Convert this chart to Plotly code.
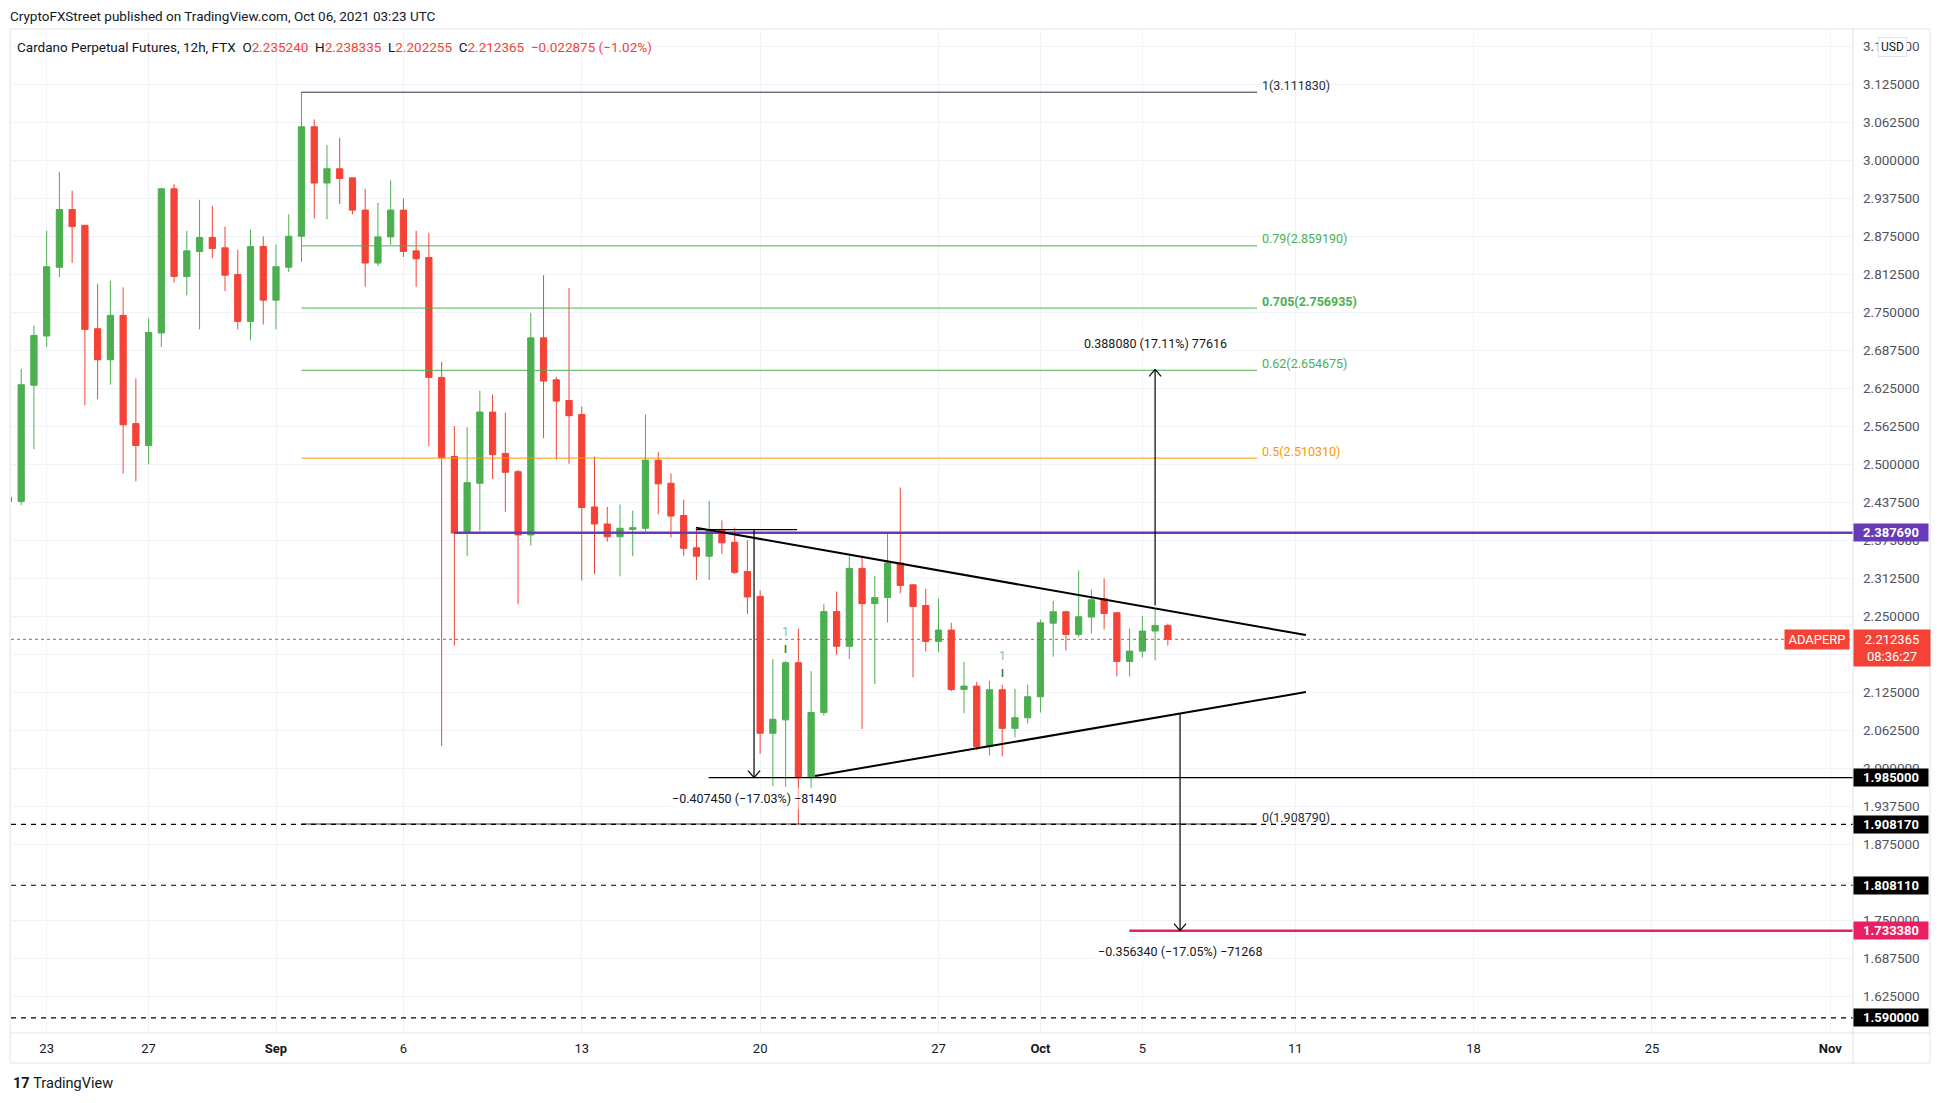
import pandas as pd
import plotly.graph_objects as go

# ADA-PERP 12h candles, Aug 21 12:00 -> Oct 6 00:00
opens = [2.446, 2.439, 2.630, 2.711, 2.824, 2.919, 2.893, 2.723, 2.672, 2.745, 2.567, 2.531,
         2.716, 2.953, 2.809, 2.850, 2.873, 2.856, 2.812, 2.735, 2.858, 2.770, 2.824, 2.875,
         3.055, 2.9625, 2.986, 2.971, 2.918, 2.831, 2.874, 2.918, 2.851, 2.840, 2.643, 2.513,
         2.387, 2.469, 2.586, 2.518, 2.488, 2.384, 2.708, 2.639, 2.605, 2.582, 2.430, 2.402,
         2.381, 2.393, 2.395, 2.507, 2.469, 2.416, 2.363, 2.349, 2.393, 2.372, 2.324, 2.283,
         2.058, 2.080, 2.174, 1.985, 2.092, 2.258, 2.201, 2.329, 2.271, 2.281, 2.338, 2.302,
         2.268, 2.209, 2.2276, 2.130, 2.1355, 2.036, 2.1295, 2.066, 2.0835, 2.118, 2.239, 2.2577,
         2.2205, 2.249, 2.279, 2.256, 2.176, 2.193, 2.226, 2.235240]
highs = [2.452, 2.657, 2.728, 2.884, 2.981, 2.950, 2.893, 2.797, 2.802, 2.791, 2.641, 2.740,
         2.955, 2.961, 2.884, 2.935, 2.925, 2.891, 2.853, 2.886, 2.875, 2.861, 2.911, 3.1118,
         3.067, 3.025, 3.037, 2.971, 2.953, 2.930, 2.967, 2.937, 2.884, 2.881, 2.669, 2.563,
         2.561, 2.621, 2.615, 2.585, 2.491, 2.749, 2.811, 2.644, 2.790, 2.595, 2.513, 2.430,
         2.434, 2.424, 2.582, 2.520, 2.485, 2.442, 2.394, 2.440, 2.408, 2.396, 2.375, 2.293,
         2.180, 2.177, 2.230, 2.160, 2.270, 2.291, 2.349, 2.348, 2.317, 2.387, 2.462, 2.303,
         2.2955, 2.279, 2.2396, 2.1755, 2.1426, 2.144, 2.1377, 2.131, 2.1377, 2.2446, 2.2758, 2.2594,
         2.3257, 2.2944, 2.3125, 2.2577, 2.2298, 2.2512, 2.2627, 2.238335]
lows = [2.433, 2.433, 2.525, 2.693, 2.808, 2.831, 2.597, 2.607, 2.631, 2.485, 2.472, 2.500,
        2.693, 2.799, 2.778, 2.722, 2.839, 2.785, 2.722, 2.704, 2.730, 2.722, 2.816, 2.833,
        2.904, 2.903, 2.928, 2.911, 2.792, 2.826, 2.861, 2.841, 2.792, 2.530, 2.037, 2.202,
        2.349, 2.391, 2.476, 2.422, 2.270, 2.366, 2.543, 2.508, 2.501, 2.309, 2.320, 2.373,
        2.316, 2.349, 2.390, 2.418, 2.380, 2.349, 2.310, 2.310, 2.353, 2.320, 2.254, 2.024,
        1.971, 1.970, 1.908, 1.967, 2.087, 2.187, 2.180, 2.065, 2.139, 2.240, 2.288, 2.150,
        2.1925, 2.191, 2.127, 2.091, 2.030, 2.0215, 2.020, 2.051, 2.074, 2.092, 2.184, 2.194,
        2.2155, 2.222, 2.2287, 2.1514, 2.1514, 2.1827, 2.1777, 2.202255]
closes = [2.439, 2.631, 2.712, 2.825, 2.919, 2.891, 2.722, 2.672, 2.745, 2.565, 2.531, 2.717,
          2.953, 2.809, 2.851, 2.873, 2.855, 2.811, 2.735, 2.858, 2.770, 2.825, 2.875, 3.055,
          2.9625, 2.986, 2.970, 2.918, 2.831, 2.874, 2.918, 2.850, 2.838, 2.643, 2.511, 2.387,
          2.470, 2.586, 2.516, 2.487, 2.384, 2.708, 2.637, 2.604, 2.580, 2.429, 2.402, 2.381,
          2.395, 2.396, 2.507, 2.468, 2.415, 2.362, 2.349, 2.393, 2.371, 2.3225, 2.282, 2.058,
          2.081, 2.174, 1.985, 2.092, 2.258, 2.201, 2.329, 2.271, 2.281, 2.338, 2.301, 2.2665,
          2.209, 2.2276, 2.130, 2.1355, 2.0358, 2.1295, 2.066, 2.0835, 2.118, 2.2396, 2.2577, 2.2205,
          2.2495, 2.2775, 2.255, 2.176, 2.193, 2.226, 2.23524, 2.212365]
times = pd.date_range("2021-08-21 12:00", periods=len(opens), freq="12h")

# axis ticks
tick_dates = ["2021-08-23", "2021-08-27", "2021-09-01", "2021-09-06", "2021-09-13", "2021-09-20",
              "2021-09-27", "2021-10-01", "2021-10-05", "2021-10-11", "2021-10-18", "2021-10-25",
              "2021-11-01"]
tick_labels = ["23", "27", "<b>Sep</b>", "6", "13", "20", "27", "<b>Oct</b>", "5", "11", "18", "25", "<b>Nov</b>"]

# fibonacci retracement
fib_ratios = ["1", "0.79", "0.705", "0.62", "0.5", "0"]
fib_prices = [3.111830, 2.859190, 2.756935, 2.654675, 2.510310, 1.908790]
fib_colors = ["#2a2e39", "#4caf50", "#4caf50", "#4caf50", "#ff9800", "#2a2e39"]
fib_start, fib_end = "2021-09-02 00:00", "2021-10-09 12:00"

# horizontal levels: price, start, colour, dash, width
level_prices = [2.387690, 1.985000, 1.908170, 1.808110, 1.733380, 1.590000]
level_starts = ["2021-09-08 00:00", "2021-09-17 23:30", None, None, "2021-10-04 11:45", None]
level_colors = ["#673ab7", "#000000", "#000000", "#000000", "#e91e63", "#000000"]
level_dash = ["solid", "solid", "dash", "dash", "solid", "dash"]
level_width = [2.5, 1.2, 1.2, 1.2, 2.5, 1.2]

last_price = 2.212365

# triangle trend lines
upper_line = (["2021-09-17 11:30", "2021-10-11 10:00"], [2.3960, 2.2194])
lower_line = (["2021-09-22 03:40", "2021-10-11 10:00"], [1.9877, 2.1257])

# measurement arrows: x, start price, end price, label
measures = [
    ("2021-09-19 18:15", 2.39263, 1.98518, "\u22120.407450 (\u221217.03%) \u221281490"),
    ("2021-10-05 12:00", 2.26800, 2.65608, "0.388080 (17.11%) 77616"),
    ("2021-10-06 11:30", 2.08972, 1.73338, "\u22120.356340 (\u221217.05%) \u221271268"),
]
measure_top = (["2021-09-17 11:30", "2021-09-21 10:45"], 2.39263)

X_START, X_END = pd.Timestamp("2021-08-21 14:24"), pd.Timestamp("2021-11-01 21:20")
Y_MIN, Y_MAX = 1.5652, 3.2141
W, H = 1941, 1103
PL, PR, PT, PB = 11, 1853, 30, 1033
DX = (X_END - X_START) / (PR - PL)   # time per pixel
DY = (Y_MAX - Y_MIN) / (PB - PT)     # price per pixel

GREEN, RED = "#4caf50", "#f44336"
FONT = "Roboto, Arial, sans-serif"

fig = go.Figure(go.Candlestick(
    x=times, open=opens, high=highs, low=lows, close=closes,
    increasing=dict(line=dict(color=GREEN, width=1), fillcolor=GREEN),
    decreasing=dict(line=dict(color=RED, width=1), fillcolor=RED),
    whiskerwidth=0, hoverinfo="skip", showlegend=False,
))

shapes = []
annotations = []

# fib lines + labels
for r, p, c in zip(fib_ratios, fib_prices, fib_colors):
    shapes.append(dict(type="line", xref="x", yref="y", x0=fib_start, x1=fib_end, y0=p, y1=p,
                       line=dict(color=c, width=1)))
    txt = f"{r}({p:.6f})"
    if r == "0.705":
        txt = f"<b>{txt}</b>"
    annotations.append(dict(xref="x", yref="y", x=fib_end, y=p, text=txt, showarrow=False,
                            xanchor="left", yanchor="middle", xshift=3, yshift=7,
                            font=dict(size=12.5, color=c, family=FONT)))

# horizontal levels
for p, s, c, d, w in zip(level_prices, level_starts, level_colors, level_dash, level_width):
    shapes.append(dict(type="line", xref="x", yref="y", x0=s or X_START, x1=X_END, y0=p, y1=p,
                       line=dict(color=c, width=w, dash="5px,5px" if d == "dash" else "solid")))
    annotations.append(dict(xref="paper", yref="y", x=1.0, y=p, text=f"<b>{p:.6f}</b>",
                            showarrow=False, xanchor="left", yanchor="middle", width=72,
                            height=15, bgcolor=c, borderpad=1,
                            font=dict(size=13, color="white", family=FONT)))

# last price
shapes.append(dict(type="line", xref="x", yref="y", x0=X_START, x1=X_END, y0=last_price, y1=last_price,
                   line=dict(color=RED, width=1, dash="dot")))
annotations.append(dict(xref="paper", yref="y", x=1.0, y=last_price, text=f"{last_price:.6f}<br>08:36:27",
                        showarrow=False, xanchor="left", yanchor="middle", yshift=-9, width=72,
                        bgcolor=RED, borderpad=2, font=dict(size=13, color="white", family=FONT)))
annotations.append(dict(xref="paper", yref="y", x=1.0, y=last_price, text="ADAPERP",
                        showarrow=False, xanchor="right", yanchor="middle", xshift=-3, width=60,
                        bgcolor=RED, borderpad=2, font=dict(size=13, color="white", family=FONT)))

# triangle
for xs, ys in (upper_line, lower_line):
    shapes.append(dict(type="line", xref="x", yref="y", x0=xs[0], x1=xs[1], y0=ys[0], y1=ys[1],
                       line=dict(color="#000000", width=2)))

# measurements
shapes.append(dict(type="line", xref="x", yref="y", x0=measure_top[0][0], x1=measure_top[0][1],
                   y0=measure_top[1], y1=measure_top[1], line=dict(color="#000000", width=1.2)))
for x, p0, p1, label in measures:
    xt = pd.Timestamp(x)
    shapes.append(dict(type="line", xref="x", yref="y", x0=xt, x1=xt, y0=p0, y1=p1,
                       line=dict(color="#000000", width=1.2)))
    sgn = 1 if p1 < p0 else -1   # arrow pointing down -> arms go up
    for side in (-1, 1):
        shapes.append(dict(type="line", xref="x", yref="y", x0=xt, y0=p1,
                           x1=xt + side * 6 * DX, y1=p1 + sgn * 7 * DY,
                           line=dict(color="#000000", width=1.2)))
    annotations.append(dict(xref="x", yref="y", x=xt, y=p1, text=label, showarrow=False,
                            xanchor="center", yanchor="middle", yshift=-21 if p1 < p0 else 26,
                            bgcolor="rgba(255,255,255,0.5)", borderpad=3,
                            font=dict(size=12.5, color="#131722", family=FONT)))

# small "1 / I" markers
for x, p in (("2021-09-21 00:00", 2.177), ("2021-09-29 12:00", 2.1377)):
    annotations.append(dict(xref="x", yref="y", x=x, y=p, text="1", showarrow=False,
                            yanchor="bottom", yshift=20, font=dict(size=12, color="#81c784", family=FONT)))
    annotations.append(dict(xref="x", yref="y", x=x, y=p, text="<b>I</b>", showarrow=False,
                            yanchor="bottom", yshift=4, font=dict(size=10, color="#2e7d32", family=FONT)))

# frame
fx0, fx1 = -1 / (PR - PL), (1930 - PL) / (PR - PL)
fy0, fy1 = (PB - 1063) / (PB - PT), (PB - 29) / (PB - PT)
BORDER = "#e0e3eb"
shapes += [
    dict(type="rect", xref="paper", yref="paper", x0=fx0, x1=fx1, y0=fy0, y1=fy1,
         line=dict(color=BORDER, width=1), layer="below"),
    dict(type="line", xref="paper", yref="paper", x0=1, x1=1, y0=fy0, y1=fy1,
         line=dict(color=BORDER, width=1)),
    dict(type="line", xref="paper", yref="paper", x0=fx0, x1=fx1, y0=0, y1=0,
         line=dict(color=BORDER, width=1)),
]

# texts around the chart
annotations += [
    dict(xref="paper", yref="paper", x=-3 / (PR - PL), y=(PB - 16) / (PB - PT),
         text="CryptoFXStreet published on TradingView.com, Oct 06, 2021 03:23 UTC",
         showarrow=False, xanchor="left", yanchor="middle",
         font=dict(size=13.5, color="#131722", family=FONT)),
    dict(xref="paper", yref="paper", x=4 / (PR - PL), y=(PB - 47) / (PB - PT),
         text=("Cardano Perpetual Futures, 12h, FTX\u00a0\u00a0"
               f"O<span style='color:{RED}'>2.235240</span>\u00a0\u00a0"
               f"H<span style='color:{RED}'>2.238335</span>\u00a0\u00a0"
               f"L<span style='color:{RED}'>2.202255</span>\u00a0\u00a0"
               f"C<span style='color:{RED}'>2.212365</span>\u00a0\u00a0"
               f"<span style='color:{RED}'>\u22120.022875 (\u22121.02%)</span>"),
         showarrow=False, xanchor="left", yanchor="middle",
         font=dict(size=13.5, color="#131722", family=FONT)),
    dict(xref="paper", yref="paper", x=(1892 - PL) / (PR - PL), y=(PB - 47) / (PB - PT),
         text="USD", showarrow=False, xanchor="center", yanchor="middle", bgcolor="white",
         bordercolor=BORDER, borderwidth=1, borderpad=2,
         font=dict(size=12, color="#131722", family=FONT)),
    dict(xref="paper", yref="paper", x=0, y=(PB - 1083) / (PB - PT),
         text="<b>17</b>\u00a0TradingView", showarrow=False, xanchor="left", yanchor="middle",
         font=dict(size=14.5, color="#131722", family=FONT)),
]

fig.update_layout(
    width=W, height=H, autosize=False,
    margin=dict(l=PL, r=W - PR, t=PT, b=H - PB),
    paper_bgcolor="white", plot_bgcolor="white",
    shapes=shapes, annotations=annotations, showlegend=False,
    font=dict(family=FONT, size=12.5, color="#131722"),
    xaxis=dict(type="date", range=[X_START, X_END], rangeslider=dict(visible=False),
               tickvals=tick_dates, ticktext=tick_labels, showgrid=True, gridcolor="#f0f3fa",
               zeroline=False, showline=False, ticks="", ticklabelstandoff=6,
               tickfont=dict(size=13, color="#131722")),
    yaxis=dict(side="right", range=[Y_MIN, Y_MAX], dtick=0.0625, tick0=0, tickformat=".6f",
               showgrid=True, gridcolor="#f0f3fa", zeroline=False, showline=False, ticks="",
               ticklabelstandoff=9, tickfont=dict(size=13.5, color="#50535e")),
    hovermode=False,
)

fig.write_html("out.html", config={"displayModeBar": False},
               post_script="document.body.style.margin='0';document.body.style.overflow='hidden';")
